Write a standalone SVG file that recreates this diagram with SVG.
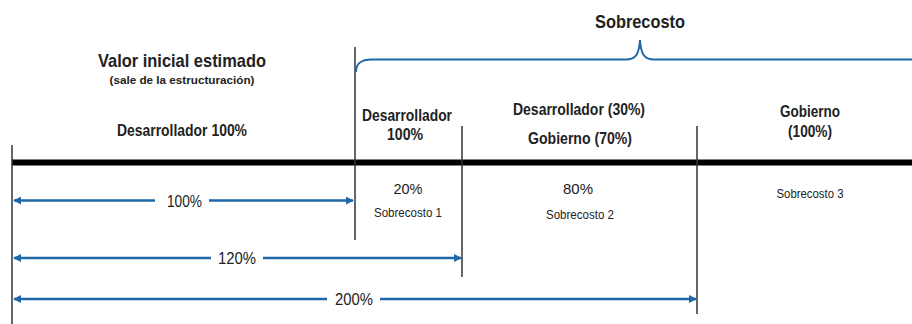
<svg xmlns="http://www.w3.org/2000/svg" width="912" height="324" viewBox="0 0 912 324">
<defs>
<style>
text{font-family:"Liberation Sans",Arial,sans-serif;fill:#222;text-anchor:middle}
.b{font-weight:bold}
.v{stroke:#333;stroke-width:1.5;fill:none}
.a{stroke:#1f67a8;stroke-width:2.5;fill:none}
</style>
<marker id="ah" viewBox="0 0 10 10" refX="9" refY="5" markerWidth="3.2" markerHeight="3.2" orient="auto-start-reverse" markerUnits="strokeWidth">
<path d="M0,0 L10,5 L0,10 z" fill="#1f67a8"/>
</marker>
</defs>
<rect width="912" height="324" fill="#fff"/>
<g id="timeline">
<line x1="12" y1="162.5" x2="912" y2="162.5" stroke="#000" stroke-width="6"/>
<line class="v" x1="12" y1="145" x2="12" y2="324"/>
<line class="v" x1="355" y1="47" x2="355" y2="240"/>
<line class="v" x1="462" y1="126" x2="462" y2="277"/>
<line class="v" x1="697" y1="126" x2="697" y2="314"/>
</g>
<g id="brace">
<path d="M356,72 C356,64 360,59.5 372,59.5 L626,59.5 C636,59.5 639,54 640,40 C641,54 644,59.5 654,59.5 L912,59.5" stroke="#1f67a8" stroke-width="2" fill="none"/>
<text class="b" x="640" y="28" font-size="19" textLength="90" lengthAdjust="spacingAndGlyphs">Sobrecosto</text>
</g>
<g id="inicial">
<text class="b" x="182" y="67" font-size="18.5" textLength="168" lengthAdjust="spacingAndGlyphs">Valor inicial estimado</text>
<text class="b" x="182" y="84" font-size="10.5" textLength="145" lengthAdjust="spacingAndGlyphs">(sale de la estructuración)</text>
<text class="b" x="182" y="135.5" font-size="16" textLength="130" lengthAdjust="spacingAndGlyphs">Desarrollador 100%</text>
</g>
<g id="tramo1">
<text class="b" x="407" y="121" font-size="16" textLength="90" lengthAdjust="spacingAndGlyphs">Desarrollador</text>
<text class="b" x="405" y="139.5" font-size="16" textLength="36" lengthAdjust="spacingAndGlyphs">100%</text>
<text x="408" y="194" font-size="15.5" textLength="29" lengthAdjust="spacingAndGlyphs">20%</text>
<text x="408" y="217" font-size="12.5" textLength="68" lengthAdjust="spacingAndGlyphs">Sobrecosto 1</text>
</g>
<g id="tramo2">
<text class="b" x="579" y="115" font-size="16" textLength="132" lengthAdjust="spacingAndGlyphs">Desarrollador (30%)</text>
<text class="b" x="580" y="144" font-size="16" textLength="104" lengthAdjust="spacingAndGlyphs">Gobierno (70%)</text>
<text x="578" y="194" font-size="15.5" textLength="30" lengthAdjust="spacingAndGlyphs">80%</text>
<text x="580" y="219" font-size="12.5" textLength="68" lengthAdjust="spacingAndGlyphs">Sobrecosto 2</text>
</g>
<g id="tramo3">
<text class="b" x="810" y="117" font-size="16" textLength="60" lengthAdjust="spacingAndGlyphs">Gobierno</text>
<text class="b" x="810" y="137" font-size="16" textLength="44" lengthAdjust="spacingAndGlyphs">(100%)</text>
<text x="810" y="198" font-size="12.5" textLength="67" lengthAdjust="spacingAndGlyphs">Sobrecosto 3</text>
</g>
<g id="connectors">
<line class="a" x1="155" y1="200.5" x2="14" y2="200.5" marker-end="url(#ah)"/>
<line class="a" x1="209" y1="200.5" x2="353" y2="200.5" marker-end="url(#ah)"/>
<text x="184.5" y="206.5" font-size="16" textLength="35" lengthAdjust="spacingAndGlyphs">100%</text>
<line class="a" x1="211" y1="258" x2="14" y2="258" marker-end="url(#ah)"/>
<line class="a" x1="263" y1="258" x2="461" y2="258" marker-end="url(#ah)"/>
<text x="237" y="264" font-size="16" textLength="38" lengthAdjust="spacingAndGlyphs">120%</text>
<line class="a" x1="327" y1="299" x2="14" y2="299" marker-end="url(#ah)"/>
<line class="a" x1="380" y1="299" x2="696" y2="299" marker-end="url(#ah)"/>
<text x="354" y="305" font-size="16" textLength="38" lengthAdjust="spacingAndGlyphs">200%</text>
</g>
</svg>
